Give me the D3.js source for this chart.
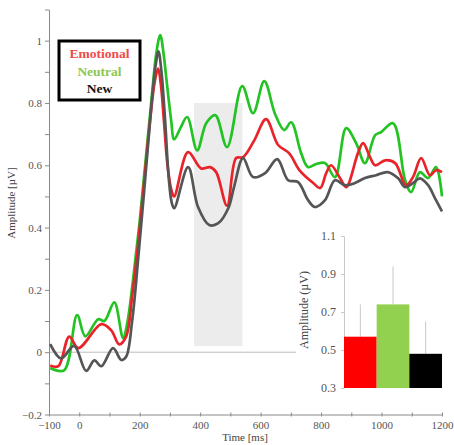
<!DOCTYPE html>
<html>
<head>
<meta charset="utf-8">
<script src="https://cdn.jsdelivr.net/npm/d3@7"></script>
<style>
  html, body { margin: 0; padding: 0; background: #fff; }
  svg { display: block; }
  text { font-family: "Liberation Serif", "Times New Roman", "DejaVu Serif", serif; }
</style>
</head>
<body>
<svg id="chart" width="454" height="445"></svg>
<script>
// ERP waveforms (time in ms, amplitude in µV)
const emotionalT = [-96,-69,-33,-3,73,106,132,155,175,195,215,235,250,261,270,280,292,305,314,360,403,433,453,489,519,542,579,618,658,694,731,774,797,817,833,863,883,922,939,962,979,1012,1045,1081,1104,1131,1160,1180,1200];
const emotionalV = [-0.043,-0.045,0.05,0.013,0.09,0.07,0.025,0.05,0.18,0.35,0.55,0.75,0.87,0.91,0.86,0.745,0.6,0.52,0.5,0.642,0.59,0.594,0.578,0.47,0.623,0.626,0.68,0.748,0.665,0.639,0.581,0.543,0.527,0.575,0.6,0.558,0.53,0.639,0.671,0.626,0.6,0.616,0.607,0.536,0.562,0.623,0.568,0.584,0.578];

const neutralT = [-96,-50,-7,20,63,83,116,145,160,180,200,220,240,255,268,280,288,304,314,335,357,390,420,450,489,539,575,612,648,678,701,734,757,784,813,846,883,916,945,979,998,1038,1078,1098,1127,1154,1180,1200];
const neutralV = [-0.051,-0.058,0.119,0.051,0.106,0.1,0.16,0.045,0.1,0.25,0.42,0.62,0.82,0.96,1.018,0.95,0.88,0.745,0.683,0.72,0.755,0.648,0.735,0.761,0.658,0.854,0.767,0.87,0.764,0.713,0.738,0.639,0.594,0.604,0.607,0.562,0.719,0.671,0.607,0.697,0.706,0.735,0.552,0.514,0.578,0.559,0.594,0.5];

const newT = [-96,-60,-17,23,50,73,112,139,155,175,195,215,235,250,262,272,284,296,306,314,360,393,430,460,493,512,542,575,615,655,691,724,757,780,813,846,879,912,945,982,1021,1055,1078,1104,1127,1154,1177,1200];
const newV = [0.026,-0.02,0.02,-0.06,-0.026,-0.045,0.013,-0.025,-0.015,0.1,0.3,0.52,0.75,0.9,0.966,0.9,0.745,0.56,0.48,0.462,0.594,0.466,0.408,0.414,0.462,0.53,0.623,0.562,0.575,0.62,0.552,0.546,0.488,0.466,0.488,0.552,0.536,0.543,0.559,0.568,0.578,0.558,0.53,0.543,0.558,0.536,0.494,0.452];

// Analysis window (ms) and its vertical extent (µV)
const windowMs = [380, 540];
const windowV = [0.02, 0.8];

// Mean amplitude in the window, with error bar tops
const barCategories = ["Emotional", "Neutral", "New"];
const barValues = [0.57, 0.74, 0.48];
const barErrorTops = [0.74, 0.94, 0.65];

const xTickValues = d3.range(-100, 1201, 100);
const xTickLabels = [-100, 0, 200, 400, 600, 800, 1000, 1200];
const yTickValues = d3.range(-2, 12).map(d => d / 10);
const yTickLabels = [-0.2, 0, 0.2, 0.4, 0.6, 0.8, 1];
const insetTicks = [0.3, 0.5, 0.7, 0.9, 1.1];

const lineColors = { Emotional: "#e8232a", Neutral: "#24c324", New: "#555555" };
const legendColors = { Emotional: "#f04a4a", Neutral: "#8cc850", New: "#111111" };
const barColors = ["#ff0000", "#92d050", "#000000"];

const serif = "'Liberation Serif', 'Times New Roman', serif";
const svg = d3.select("#chart");

const x = d3.scaleLinear().domain([-100, 1200]).range([49, 442]);
const y = d3.scaleLinear().domain([-0.2, 1.1]).range([414.5, 9.5]);

// Analysis window shading
svg.append("rect")
  .attr("x", x(windowMs[0])).attr("width", x(windowMs[1]) - x(windowMs[0]))
  .attr("y", y(windowV[1])).attr("height", y(windowV[0]) - y(windowV[1]))
  .attr("fill", "#ececec");

// Zero baseline
svg.append("line")
  .attr("x1", x(-100)).attr("x2", 296)
  .attr("y1", y(0)).attr("y2", y(0))
  .attr("stroke", "#bdbdbd").attr("stroke-width", 1);

// Axes
const fmtMinus = v => String(v).replace("-", "\u2212");
const xAxis = d3.axisBottom(x).tickValues(xTickValues).tickSize(2).tickPadding(5).tickSizeOuter(0)
  .tickFormat(d => xTickLabels.includes(d) ? fmtMinus(d) : "");
const gx = svg.append("g").attr("transform", `translate(0,${y(-0.2)})`).call(xAxis);
gx.selectAll(".tick line").attr("y1", -2);

const yAxis = d3.axisLeft(y).tickValues(yTickValues).tickSize(4).tickSizeOuter(0)
  .tickFormat(d => yTickLabels.some(v => Math.abs(v - d) < 1e-9) ? fmtMinus(Math.round(d * 10) / 10) : "");
const gy = svg.append("g").attr("transform", `translate(${x(-100)},0)`).call(yAxis);

[gx, gy].forEach(g => {
  g.attr("font-family", serif);
  g.select(".domain").attr("stroke", "#8a8a8a");
  g.selectAll(".tick line").attr("stroke", "#8a8a8a");
  g.selectAll(".tick text").attr("fill", "#555").style("font-size", "11px").style("font-family", serif);
});

// Axis titles
svg.append("text").attr("x", 245).attr("y", 441).attr("text-anchor", "middle")
  .attr("fill", "#444").style("font-size", "11px").style("font-family", serif).text("Time [ms]");
svg.append("text").attr("transform", "translate(15,203) rotate(-90)").attr("text-anchor", "middle")
  .attr("fill", "#444").style("font-size", "11px").style("font-family", serif).text("Amplitude [µV]");

// Waveforms
const line = d3.line().x(d => x(d[0])).y(d => y(d[1])).curve(d3.curveCatmullRom.alpha(0.5));
const series = [
  { name: "Neutral", t: neutralT, v: neutralV },
  { name: "Emotional", t: emotionalT, v: emotionalV },
  { name: "New", t: newT, v: newV }
];
series.forEach(s => {
  svg.append("path")
    .datum(s.t.map((t, i) => [t, s.v[i]]))
    .attr("d", line)
    .attr("fill", "none")
    .attr("stroke", lineColors[s.name])
    .attr("stroke-width", 2.7)
    .attr("stroke-linejoin", "round");
});

// Legend
const legend = svg.append("g");
legend.append("rect").attr("x", 59).attr("y", 41).attr("width", 81).attr("height", 59)
  .attr("fill", "#fff").attr("stroke", "#000").attr("stroke-width", 3);
barCategories.forEach((c, i) => {
  legend.append("text").attr("x", 99.5).attr("y", 58 + i * 17.5).attr("text-anchor", "middle")
    .attr("fill", legendColors[c]).style("font-size", "13.5px").style("font-weight", "bold")
    .style("font-family", serif).text(c);
});

// Inset bar chart of window means
const inset = svg.append("g");
inset.append("rect").attr("x", 296).attr("y", 226).attr("width", 158).attr("height", 170).attr("fill", "#fff");
const iy = d3.scaleLinear().domain([0.3, 1.1]).range([388, 236]);
const ix = d3.scaleBand().domain(barCategories).range([344, 442]).padding(0);

const iAxis = d3.axisLeft(iy).tickValues(insetTicks).tickSize(3).tickSizeOuter(0).tickFormat(d3.format(".1f"));
const gi = inset.append("g").attr("transform", "translate(344,0)").call(iAxis);
gi.select(".domain").attr("stroke", "#c8c8c8");
gi.selectAll(".tick line").attr("stroke", "#c8c8c8");
gi.selectAll(".tick text").attr("fill", "#555").style("font-size", "12px")
  .style("font-family", serif).attr("dx", "-2px");

barCategories.forEach((c, i) => {
  const cx = ix(c) + ix.bandwidth() / 2;
  inset.append("line").attr("x1", cx).attr("x2", cx)
    .attr("y1", iy(barValues[i])).attr("y2", iy(barErrorTops[i]))
    .attr("stroke", "#c8c8c8").attr("stroke-width", 1);
  inset.append("rect").attr("x", ix(c)).attr("width", ix.bandwidth())
    .attr("y", iy(barValues[i])).attr("height", iy(0.3) - iy(barValues[i]))
    .attr("fill", barColors[i]);
});

inset.append("text").attr("transform", "translate(308,310) rotate(-90)").attr("text-anchor", "middle")
  .attr("fill", "#444").style("font-size", "12px").style("font-family", serif).text("Amplitude (µV)");
</script>
</body>
</html>
